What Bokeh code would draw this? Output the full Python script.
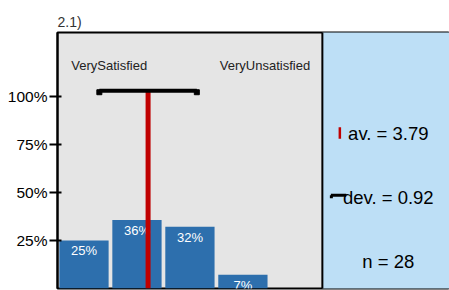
from bokeh.plotting import figure
from bokeh.models import FixedTicker
from bokeh.core.properties import value
from bokeh.embed import file_html
from bokeh.resources import INLINE

# data
title_text = "2.1)"
categories = ["VerySatisfied", "2", "3", "4", "VeryUnsatisfied"]
shares = [0.25, 0.357, 0.321, 0.071, 0.0]
share_labels = ["25%", "36%", "32%", "7%", ""]
mean_val = 3.79
sd_val = 0.92
n_val = 28
tick_vals = [0.25, 0.5, 0.75, 1.0]
tick_labels = ["25%", "50%", "75%", "100%"]

FONT = "Liberation Sans"
n_cat = len(categories)
xs = list(range(1, n_cat + 1))
x_max = n_cat + 0.5 + 2.4

p = figure(width=449, height=290, output_backend="svg", toolbar_location=None,
           x_range=(0.5, x_max), y_range=(0, 1.333), x_axis_type=None,
           title=title_text, min_border_left=57, min_border_right=0,
           min_border_bottom=2, min_border_top=32)
p.title.text_font = FONT
p.title.text_font_size = "14px"
p.title.text_font_style = "normal"
p.title.text_color = "#333333"
p.title.align = "left"
p.title.offset = 0
p.title.standoff = 6
p.title.text_line_height = 1.6
p.grid.visible = False
p.background_fill_color = "#E5E5E5"
p.border_fill_color = "white"
p.outline_line_color = "black"
p.outline_line_width = 2

# right info panel
p.quad(left=n_cat + 0.5, right=x_max + 1, bottom=-1, top=2, color="#BDDFF6", line_color=None)
p.segment(x0=n_cat + 0.5, x1=n_cat + 0.5, y0=-1, y1=2, line_color="black", line_width=2)

# bars
p.vbar(x=xs, top=shares, width=0.93, color="#2D6FAD", line_color=None)
p.text(x=xs, y=shares, text=share_labels, text_color="white", text_align="center",
       text_baseline="top", y_offset=3, text_font=value(FONT), text_font_size="13px")

# mean and sd
pos = (n_cat + 1) - mean_val
bar_y = 1.03
p.segment(x0=pos, x1=pos, y0=0, y1=bar_y, line_color="#C00000", line_width=5)
p.segment(x0=pos - sd_val, x1=pos + sd_val, y0=bar_y, y1=bar_y, line_color="black", line_width=4)
p.scatter(x=[pos - sd_val, pos + sd_val], y=[bar_y - 0.008, bar_y - 0.008], marker="square",
          size=5, color="black")

# category end labels
p.text(x=[0.76], y=[1.16], text=[categories[0]], text_align="left", text_baseline="middle",
       text_font=value(FONT), text_font_size="13px", text_color="#222222")
p.text(x=[5.27], y=[1.16], text=[categories[-1]], text_align="right", text_baseline="middle",
       text_font=value(FONT), text_font_size="13px", text_color="#222222")

# stats text
cx = 6.745
p.text(x=[cx, cx, cx], y=[0.807, 0.474, 0.141],
       text=["av. = %.2f" % mean_val, "dev. = %.2f" % sd_val, "n = %d" % n_val],
       text_align="center", text_baseline="middle", text_font=value(FONT),
       text_font_size="18.5px", text_color="black")
p.segment(x0=[5.83], x1=[5.83], y0=[0.78], y1=[0.84], line_color="#C00000", line_width=2.5)
p.segment(x0=[5.66], x1=[5.95], y0=[0.485], y1=[0.485], line_color="black", line_width=3)
p.segment(x0=[5.67], x1=[5.67], y0=[0.485], y1=[0.47], line_color="black", line_width=3)

# y axis
ax = p.yaxis[0]
ax.ticker = FixedTicker(ticks=tick_vals)
ax.major_label_overrides = {t: l for t, l in zip(tick_vals, tick_labels)}
ax.minor_tick_line_color = None
ax.major_tick_in = 4
ax.major_tick_out = 8
ax.major_tick_line_width = 2
ax.axis_line_width = 2
ax.major_label_text_font = FONT
ax.major_label_text_font_size = "15.5px"
ax.major_label_text_color = "black"
ax.major_label_standoff = 2

open("out.html", "w").write(file_html(p, INLINE))
